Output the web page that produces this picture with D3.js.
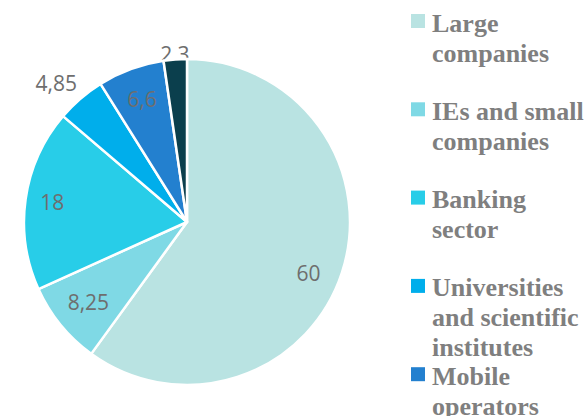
<!DOCTYPE html>
<html>
<head>
    <meta charset="utf-8">
    <script src="https://d3js.org/d3.v7.min.js"></script>
    <style>
        body { margin: 0; background: #fff; }
        svg { display: block; }
        .label { font-family: "Open Sans", sans-serif; font-size: 21px; fill: #6e6e6e; }
        .legend text { font-family: "Liberation Serif", "Times New Roman", serif; font-weight: bold; font-size: 26px; fill: #7f7f7f; }
    </style>
</head>
<body>
<div id="chart"></div>
<script>
    // chart data
    const categories = [
        ["Large", "companies"],
        ["IEs and small", "companies"],
        ["Banking", "sector"],
        ["Universities", "and scientific", "institutes"],
        ["Mobile", "operators"],
        ["Others"]
    ];
    const values = [60, 8.25, 18, 4.85, 6.6, 2.3];
    const valueLabels = ["60", "8,25", "18", "4,85", "6,6", "2,3"];
    const colors = ["#b9e3e2", "#7fd9e5", "#28cde8", "#00aeeb", "#2380cf", "#0b3f4d"];
    // where each value label sits: share of the radius, and a small turn in degrees
    const labelRadius = [0.81, 0.78, 0.835, 1.17, 0.80, 1.03];
    const labelTurn = [5, 0, 0, -2.5, 0, 0];

    const width = 585, height = 416;
    const cx = 187, cy = 222, radius = 163;

    const svg = d3.select("#chart").append("svg")
        .attr("width", width)
        .attr("height", height);

    const pie = d3.pie().sort(null).value(d => d.value);
    const arcs = pie(values.map((v, i) => ({value: v, i: i})));
    const arc = d3.arc().innerRadius(0).outerRadius(radius);

    const g = svg.append("g").attr("transform", `translate(${cx},${cy})`);

    // labels outside the pie go underneath so the slice border covers them a bit
    function drawLabel(d) {
        const i = d.data.i;
        const r = radius * labelRadius[i];
        const a = (d.startAngle + d.endAngle) / 2 + labelTurn[i] * Math.PI / 180;
        g.append("text")
            .attr("class", "label")
            .attr("x", Math.sin(a) * r)
            .attr("y", -Math.cos(a) * r)
            .attr("dy", "0.36em")
            .attr("text-anchor", "middle")
            .text(valueLabels[i]);
    }

    arcs.filter(d => labelRadius[d.data.i] > 1).forEach(drawLabel);

    g.selectAll("path.slice")
        .data(arcs)
        .enter()
        .append("path")
        .attr("class", "slice")
        .attr("d", arc)
        .attr("fill", d => colors[d.data.i])
        .attr("stroke", "#fff")
        .attr("stroke-width", 2.5)
        .attr("stroke-linejoin", "round");

    arcs.filter(d => labelRadius[d.data.i] <= 1).forEach(drawLabel);

    // legend
    const legend = svg.append("g").attr("class", "legend");
    const item = legend.selectAll("g")
        .data(categories)
        .enter()
        .append("g")
        .attr("transform", (d, i) => `translate(411,${14 + i * 88.3})`);

    item.append("rect")
        .attr("width", 14)
        .attr("height", 14)
        .attr("fill", (d, i) => colors[i]);

    item.append("text")
        .attr("x", 21)
        .attr("y", 17.5)
        .selectAll("tspan")
        .data(d => d)
        .enter()
        .append("tspan")
        .attr("x", 21)
        .attr("dy", (d, i) => i === 0 ? 0 : 30)
        .text(d => d);
</script>
</body>
</html>
